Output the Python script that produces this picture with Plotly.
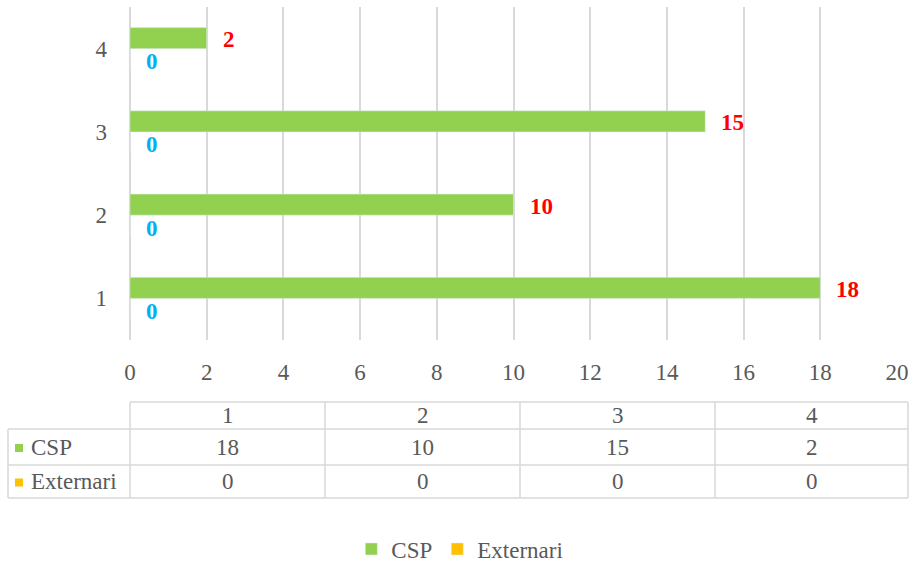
import plotly.graph_objects as go

categories = ["1", "2", "3", "4"]
csp_values = [18, 10, 15, 2]
ext_values = [0, 0, 0, 0]
series_names = ["CSP", "Externari"]
x_ticks = [0, 2, 4, 6, 8, 10, 12, 14, 16, 18, 20]

GREEN = "#92D050"
ORANGE = "#FFC000"
GRID = "#D9D9D9"
TXT = "#595959"
FONT = "Liberation Serif"
FS = 23

W, H = 916, 564
L, R, T, B = 130, 19, 7, 224
PW = W - L - R
PH = H - T - B


def px_x(px):
    return (px - L) / PW


def px_y(py):
    return (H - B - py) / PH


fig = go.Figure()
fig.add_trace(go.Bar(
    name=series_names[1], y=categories, x=ext_values, orientation="h",
    marker_color=ORANGE, legendrank=2,
))
fig.add_trace(go.Bar(
    name=series_names[0], y=categories, x=csp_values, orientation="h",
    marker_color=GREEN, legendrank=1,
))

annotations = []
shapes = []

# data labels (category axis: use category index as position)
for i, v in enumerate(csp_values):
    annotations.append(dict(
        x=v, y=i, xref="x", yref="y", text=f"<b>{v}</b>", showarrow=False,
        xanchor="left", yanchor="middle", xshift=14, yshift=9,
        font=dict(family=FONT, size=FS, color="#FF0000"),
    ))
for i, v in enumerate(ext_values):
    annotations.append(dict(
        x=v, y=i, xref="x", yref="y", text=f"<b>{v}</b>", showarrow=False,
        xanchor="left", yanchor="middle", xshift=14, yshift=-13,
        font=dict(family=FONT, size=FS, color="#00B0F0"),
    ))

# data table
col_edges = [130, 325, 520, 715, 908]
row_edges = [402, 429, 465, 498]
label_left = 8
line = dict(color=GRID, width=1.5)

shapes.append(dict(type="line", xref="paper", yref="paper",
                   x0=px_x(col_edges[0]), x1=px_x(col_edges[-1]),
                   y0=px_y(row_edges[0]), y1=px_y(row_edges[0]), line=line))
for ry in row_edges[1:]:
    shapes.append(dict(type="line", xref="paper", yref="paper",
                       x0=px_x(label_left), x1=px_x(col_edges[-1]),
                       y0=px_y(ry), y1=px_y(ry), line=line))
shapes.append(dict(type="line", xref="paper", yref="paper",
                   x0=px_x(label_left), x1=px_x(label_left),
                   y0=px_y(row_edges[1]), y1=px_y(row_edges[-1]), line=line))
for cx in col_edges:
    shapes.append(dict(type="line", xref="paper", yref="paper",
                       x0=px_x(cx), x1=px_x(cx),
                       y0=px_y(row_edges[0]), y1=px_y(row_edges[-1]), line=line))

tfont = dict(family=FONT, size=FS, color=TXT)
for i, c in enumerate(categories):
    cx = (col_edges[i] + col_edges[i + 1]) / 2
    cy = (row_edges[0] + row_edges[1]) / 2
    annotations.append(dict(x=px_x(cx), y=px_y(cy), xref="paper", yref="paper",
                            text=c, showarrow=False, xanchor="center",
                            yanchor="middle", font=tfont))
rows = [(series_names[0], csp_values, GREEN), (series_names[1], ext_values, ORANGE)]
for r, (name, vals, col) in enumerate(rows):
    cy = (row_edges[r + 1] + row_edges[r + 2]) / 2
    shapes.append(dict(type="rect", xref="paper", yref="paper",
                       x0=px_x(15), x1=px_x(23), y0=px_y(cy - 3), y1=px_y(cy + 5),
                       fillcolor=col, line=dict(width=0)))
    annotations.append(dict(x=px_x(29), y=px_y(cy), xref="paper", yref="paper",
                            text=name, showarrow=False, xanchor="left",
                            yanchor="middle", font=tfont))
    for i, v in enumerate(vals):
        cx = (col_edges[i] + col_edges[i + 1]) / 2
        annotations.append(dict(x=px_x(cx), y=px_y(cy), xref="paper", yref="paper",
                                text=str(v), showarrow=False, xanchor="center",
                                yanchor="middle", font=tfont))

fig.update_layout(
    width=W, height=H,
    margin=dict(l=L, r=R, t=T, b=B, autoexpand=False),
    paper_bgcolor="white", plot_bgcolor="white",
    barmode="group", bargap=0.495, bargroupgap=0,
    font=dict(family=FONT, size=FS, color=TXT),
    xaxis=dict(range=[0, 20], tickvals=x_ticks, showgrid=True, gridcolor=GRID,
               gridwidth=1.5, zeroline=True, zerolinecolor=GRID, zerolinewidth=1.5,
               showline=False, ticks="", ticklabelstandoff=16,
               tickfont=dict(family=FONT, size=FS, color=TXT), fixedrange=True),
    yaxis=dict(type="category", categoryorder="array", categoryarray=categories,
               showgrid=False, zeroline=False, showline=False, ticks="",
               ticklabelstandoff=22,
               tickfont=dict(family=FONT, size=FS, color=TXT), fixedrange=True),
    legend=dict(orientation="h", xref="container", yref="container",
                x=0.502, xanchor="center", y=1 - 549 / H, yanchor="middle",
                font=dict(family=FONT, size=FS, color=TXT),
                traceorder="normal", itemwidth=30),
    annotations=annotations,
    shapes=shapes,
    showlegend=True,
)

fig.write_html("out.html", config={"displayModeBar": False},
               post_script="document.body.style.margin='0';")
